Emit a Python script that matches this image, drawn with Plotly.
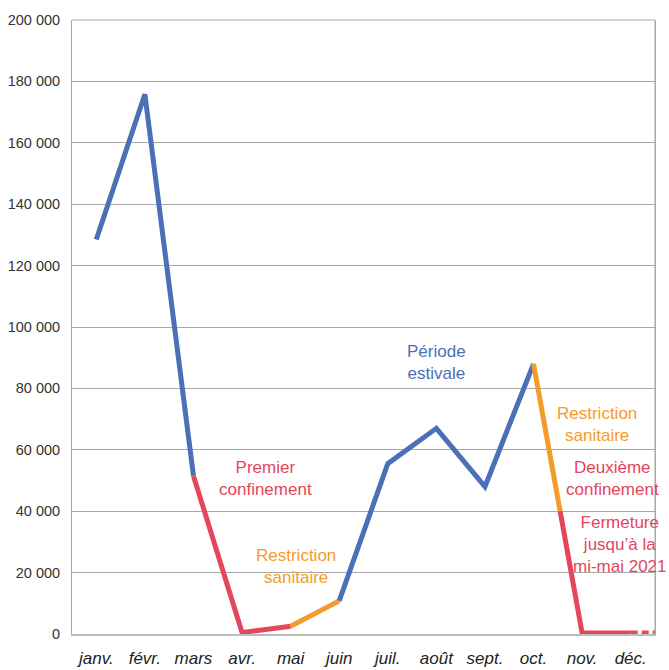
import plotly.graph_objects as go

# Monthly attendance, 2020
months = ["janv.", "févr.", "mars", "avr.", "mai", "juin",
          "juil.", "août", "sept.", "oct.", "nov.", "déc."]
visitors = [128500, 175800, 51500, 500, 2500, 10800,
            55500, 67000, 48000, 88000, 300, 300]

# Level at which the October-November drop switches from restriction to lockdown
switch_level = 40000

y_ticks = [0, 20000, 40000, 60000, 80000, 100000, 120000, 140000, 160000, 180000, 200000]
y_labels = ["0", "20 000", "40 000", "60 000", "80 000", "100 000",
            "120 000", "140 000", "160 000", "180 000", "200 000"]

BLUE = "#4A70B8"
RED = "#E4465C"
ORANGE = "#F39B2B"
FONT = "Liberation Sans, Arial, sans-serif"

x = list(range(len(months)))

# point where the oct->nov segment crosses the switch level
frac = (visitors[9] - switch_level) / (visitors[9] - visitors[10])
x_switch = 9 + frac

segments = [
    (x[0:3], visitors[0:3], BLUE, "solid"),
    (x[2:5], visitors[2:5], RED, "solid"),
    (x[4:6], visitors[4:6], ORANGE, "solid"),
    (x[5:10], visitors[5:10], BLUE, "solid"),
    ([9, x_switch], [visitors[9], switch_level], ORANGE, "solid"),
    ([x_switch, 10, 11], [switch_level, visitors[10], visitors[11]], RED, "solid"),
    ([11, 11.6], [visitors[11], visitors[11]], RED, "7px,4px"),
]

fig = go.Figure()
for sx, sy, col, dash in segments:
    fig.add_trace(go.Scatter(
        x=sx, y=sy, mode="lines",
        line=dict(color=col, width=5, dash=dash),
        cliponaxis=False, hoverinfo="skip", showlegend=False,
    ))

notes = [
    (7.0, 88300, "Période<br>estivale", BLUE),
    (3.49, 50500, "Premier<br>confinement", RED),
    (4.11, 22150, "Restriction<br>sanitaire", ORANGE),
    (10.3, 68100, "Restriction<br>sanitaire", ORANGE),
    (10.63, 50500, "Deuxième<br>confinement", RED),
    (10.77, 29300, "Fermeture<br>jusqu’à la<br>mi-mai 2021", RED),
]
for nx, ny, txt, col in notes:
    fig.add_annotation(x=nx, y=ny, text=txt, showarrow=False,
                       font=dict(family=FONT, size=17, color=col),
                       align="center", xanchor="center", yanchor="middle")

fig.update_layout(
    width=669, height=670,
    margin=dict(l=72, r=14, t=20, b=36),
    paper_bgcolor="white", plot_bgcolor="white",
    font=dict(family=FONT, color="#333333"),
    xaxis=dict(
        range=[-0.5, 11.5], tickmode="array", tickvals=x, ticktext=months,
        tickfont=dict(family=FONT, size=17, color="#222222", style="italic"),
        showgrid=False, zeroline=False, automargin=False,
        showline=True, linecolor="#BDBDBD", linewidth=2, mirror=False,
        ticks="", ticklen=0, ticklabelstandoff=8,
    ),
    yaxis=dict(
        range=[0, 200000], tickmode="array", tickvals=y_ticks, ticktext=y_labels,
        tickfont=dict(family=FONT, size=14.5, color="#333333"),
        showgrid=True, gridcolor="#A8A8A8", gridwidth=1, automargin=False,
        zeroline=False, showline=True, linecolor="#A8A8A8", linewidth=1,
        mirror=True, ticks="", ticklen=0, ticklabelstandoff=8,
    ),
)

# right border and top edge of the frame
fig.add_shape(type="line", xref="paper", yref="paper", x0=1, x1=1, y0=0, y1=1,
              line=dict(color="#A8A8A8", width=1))
fig.add_shape(type="line", xref="paper", yref="paper", x0=0, x1=1, y0=1, y1=1,
              line=dict(color="#A8A8A8", width=1))

fig.write_html("out.html")
